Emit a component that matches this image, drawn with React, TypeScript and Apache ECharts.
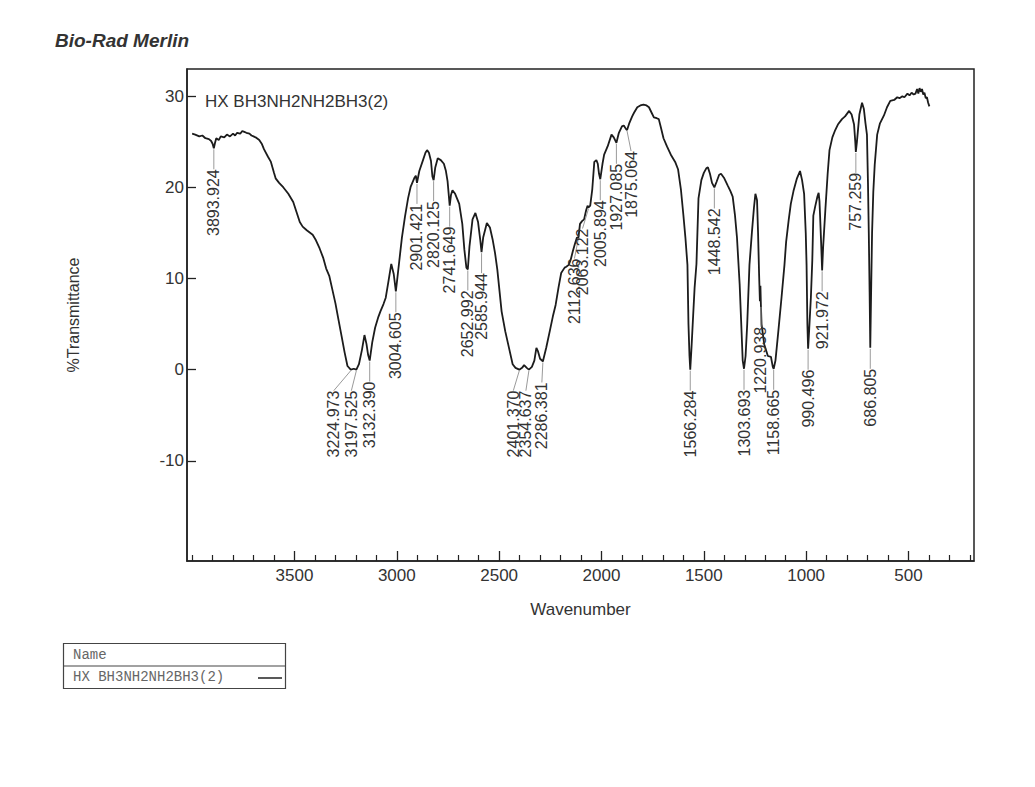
import React, { useEffect, useRef } from "react";
import * as echarts from "echarts";

// Spectrum trace (wavenumber, cm-1) and %Transmittance
const wavenumbers = [
  4000, 3985, 3965, 3950, 3935, 3918, 3907, 3900, 3894, 3888, 3882, 3870, 3860, 3843, 3830, 3815, 3800, 3790, 3780, 3765,
  3755, 3745, 3735, 3720, 3710, 3700, 3690, 3672, 3660, 3649, 3630, 3615, 3600, 3592, 3575, 3554, 3530, 3506, 3490, 3474,
  3460, 3440, 3411, 3395, 3377, 3360, 3345, 3330, 3317, 3300, 3285, 3270, 3255, 3241, 3225, 3210, 3197.5, 3185, 3170, 3158,
  3148, 3140, 3132.4, 3120, 3106, 3090, 3080, 3065, 3054, 3040, 3027, 3015, 3004.6, 2995, 2988, 2975, 2960, 2945, 2932, 2915,
  2907, 2901.4, 2890, 2872, 2860, 2852, 2843, 2833, 2826, 2820.1, 2812, 2800, 2785, 2770, 2760, 2752, 2741.6, 2735, 2728, 2715,
  2695, 2680, 2670, 2660, 2653, 2645, 2630, 2616, 2603, 2592, 2586, 2578, 2560, 2545, 2531, 2520, 2509, 2488, 2470, 2456,
  2434, 2420, 2401.4, 2388, 2378, 2365, 2354.6, 2340, 2328, 2318, 2310, 2300, 2286.4, 2270, 2250, 2238, 2224, 2210, 2197, 2180,
  2172, 2160, 2150, 2140, 2130, 2120, 2112.6, 2105, 2095, 2085, 2075, 2068, 2063.1, 2055, 2045, 2035, 2025, 2018, 2012, 2005.9,
  1995, 1987, 1970, 1951, 1940, 1927, 1915, 1900, 1891, 1880, 1875, 1865, 1850, 1841, 1825, 1810, 1795, 1780, 1768, 1755,
  1744, 1730, 1720, 1710, 1697, 1680, 1659, 1640, 1626, 1612, 1600, 1590, 1580, 1575, 1570, 1566.3, 1560, 1552, 1545, 1536,
  1526, 1512, 1500, 1488, 1480, 1470, 1460, 1448.5, 1438, 1425, 1416, 1400, 1383, 1370, 1359, 1348, 1338, 1325, 1318, 1310,
  1303.7, 1296, 1288, 1277, 1265, 1255, 1248, 1240, 1235, 1230, 1226, 1223.5, 1221, 1218, 1205, 1187, 1172, 1163, 1158.7, 1150,
  1136, 1120, 1106, 1098, 1085, 1075, 1062, 1045, 1030, 1020, 1010, 1002, 998, 994, 990.5, 985, 977, 970, 965, 955,
  945, 939, 935, 932, 927, 922, 917, 906, 895, 886, 872, 858, 845, 825, 810, 800, 790, 778, 766, 760,
  757.3, 752, 740, 727, 718, 710, 703, 698, 694, 690, 686.8, 683, 678, 672, 665, 653, 640, 620, 605, 589,
  570, 555, 544, 530, 520, 505, 495, 485, 475, 466, 458, 452, 446, 440, 434, 428, 422, 416, 410, 404,
  398,
];
const transmittance = [
  25.9, 25.8, 25.6, 25.7, 25.4, 25.3, 25.1, 24.8, 24.3, 24.9, 25.4, 25.2, 25.6, 25.5, 25.8, 25.6, 25.9, 25.7, 26.0, 25.9,
  26.2, 26.1, 26.0, 25.9, 25.7, 25.6, 25.5, 25.2, 24.8, 24.2, 23.4, 22.8, 21.6, 21.0, 20.5, 20.0, 19.3, 18.4, 17.3, 16.2,
  15.7, 15.3, 14.8, 14.2, 13.3, 12.3, 11.1, 10.3, 9.0, 7.3, 5.5, 3.7, 1.9, 0.4, 0.0, 0.1, 0.0, 0.6, 2.2, 3.8,
  2.8, 1.6, 1.0, 3.0, 4.6, 5.8, 6.4, 7.2, 7.9, 9.8, 11.6, 10.5, 8.6, 10.5, 11.9, 14.5, 16.8, 18.8, 20.1, 21.0,
  21.3, 20.5, 21.8, 23.0, 23.8, 24.1, 23.8, 22.9, 21.2, 20.8, 22.2, 23.2, 23.0, 22.6, 21.8, 20.7, 18.0, 19.2, 19.7, 19.3,
  18.2, 16.0, 13.2, 11.2, 11.0, 13.5, 16.5, 17.2, 16.2, 14.2, 12.9, 14.5, 16.1, 15.6, 14.2, 12.8, 11.0, 6.4, 4.2, 2.8,
  0.6, 0.2, 0.0, 0.2, 0.5, 0.2, 0.0, 0.3, 1.0, 2.4, 2.0, 1.2, 0.9, 2.4, 4.5, 5.8, 7.1, 9.0, 10.6, 11.2,
  11.3, 11.5, 12.1, 13.0, 13.8, 14.5, 14.5, 16.0, 16.3, 16.5, 17.5, 18.0, 17.8, 18.0, 19.8, 22.8, 23.0, 22.6, 21.5, 20.9,
  22.6, 23.6, 24.5, 25.8, 25.5, 24.9, 26.0, 26.7, 26.8, 26.4, 26.3, 27.0, 27.8, 28.2, 28.8, 29.0, 29.1, 29.0, 28.8, 28.2,
  27.7, 27.6, 27.5, 26.6, 25.4, 24.5, 23.5, 22.8, 22.0, 19.8, 17.0, 14.5, 11.5, 5.0, 1.5, 0.0, 2.5, 6.0, 9.0, 11.6,
  18.8, 20.8, 21.6, 22.1, 22.2, 21.5, 20.5, 20.0, 20.6, 21.4, 21.5, 21.0, 20.2, 19.6, 19.0, 17.0, 14.5, 9.4, 5.5, 1.0,
  0.1, 1.5, 5.0, 11.5, 15.1, 17.8, 19.3, 18.6, 15.0, 10.5, 7.5, 9.2, 7.0, 5.0, 2.8, 1.5, 1.4, 0.3, 0.1, 1.0,
  4.2, 8.0, 11.5, 14.0, 16.5, 18.2, 19.6, 21.0, 21.8, 20.8, 19.3, 15.0, 11.5, 5.0, 2.3, 4.5, 7.9, 12.0, 16.9, 18.0,
  19.0, 19.4, 18.5, 16.9, 14.0, 10.9, 13.5, 17.6, 21.5, 24.1, 25.5, 26.3, 26.9, 27.5, 27.8, 28.1, 28.4, 28.0, 26.9, 25.0,
  23.9, 25.0, 28.0, 29.3, 28.6, 27.0, 25.8, 20.5, 15.0, 8.5, 2.4, 8.0, 15.0, 19.5, 22.5, 25.8, 27.0, 27.9, 28.8, 29.5,
  29.6, 29.9, 29.8, 30.0, 29.9, 30.3, 30.1, 30.4, 30.2, 30.3, 30.8, 30.3, 30.9, 30.5, 30.8, 30.2, 30.4, 29.8, 29.9, 29.3,
  28.9,
];

// Peak picks
const peakWavenumbers = [
  3893.924, 3224.973, 3197.525, 3132.39, 3004.605, 2901.421, 2820.125, 2741.649, 2652.992, 2585.944,
  2401.37, 2354.637, 2286.381, 2112.636, 2063.122, 2005.894, 1927.085, 1875.064, 1566.284, 1448.542,
  1303.693, 1220.938, 1158.665, 990.496, 921.972, 757.259, 686.805,
];
const peakTransmittance = [
  24.3, 0.0, 0.0, 1.0, 8.6, 20.5, 20.8, 18.0, 11.0, 12.9,
  0.0, 0.0, 0.9, 14.5, 17.8, 20.9, 24.9, 26.3, 0.0, 20.0,
  0.1, 7.0, 0.1, 2.3, 10.9, 23.9, 2.4,
];
const peakLabels = peakWavenumbers.map((v) => v.toFixed(3));

const xMajorTicks = [3500, 3000, 2500, 2000, 1500, 1000, 500];
const xMinorTicks = [
  4000, 3900, 3800, 3700, 3600, 3400, 3300, 3200, 3100, 2900, 2800, 2700, 2600, 2400, 2300, 2200,
  2100, 1900, 1800, 1700, 1600, 1400, 1300, 1200, 1100, 900, 800, 700, 600, 400, 300, 200,
];
const yTicks = [-10, 0, 10, 20, 30];

const sampleName = "HX BH3NH2NH2BH3(2)";

// style: horizontal pixel shift of crowded peak labels
const LABEL_SHIFT = [0, -17, -5, 0, 0, 0, 0, 0, 0, 0, -6, -3, -1, -4, -6, 0, 0, 4, 0, 0, 0, 0, 0, 0, 0, 0, 0];

const SANS = '"Liberation Sans", Arial, sans-serif';
const MONO = '"Liberation Mono", "Courier New", monospace';

const plain = (v: number) => String(v);

export default function App() {
  const ref = useRef<HTMLDivElement>(null);

  useEffect(() => {
    if (!ref.current) return;
    const chart = echarts.init(ref.current, undefined, { renderer: "svg" });
    const lineData = wavenumbers.map((w, i) => [w, transmittance[i]]);
    const peakData = peakWavenumbers.map((w, i) => [w, peakTransmittance[i]]);

    chart.setOption({
      animation: false,
      backgroundColor: "#ffffff",
      grid: {
        left: 187,
        right: 61,
        top: 69,
        bottom: 226,
        show: true,
        borderColor: "#222",
        borderWidth: 1.5,
        backgroundColor: "transparent",
      },
      xAxis: [
        {
          type: "value",
          inverse: true,
          min: 180,
          max: 4025,
          position: "bottom",
          name: "Wavenumber",
          nameLocation: "middle",
          nameGap: 40,
          nameTextStyle: { fontFamily: SANS, fontSize: 17, color: "#333" },
          axisLine: { show: true, onZero: false, lineStyle: { color: "#222", width: 1.5 } },
          axisTick: {
            show: true,
            inside: true,
            length: 10,
            customValues: xMajorTicks,
            lineStyle: { color: "#222", width: 1.3 },
          },
          axisLabel: {
            show: true,
            customValues: xMajorTicks,
            formatter: plain,
            fontFamily: SANS,
            fontSize: 17,
            color: "#333",
            margin: 6,
          },
          splitLine: { show: false },
        },
        {
          type: "value",
          inverse: true,
          min: 180,
          max: 4025,
          position: "bottom",
          offset: 0,
          axisLine: { show: false, onZero: false },
          axisTick: {
            show: true,
            inside: true,
            length: 6,
            customValues: xMinorTicks,
            lineStyle: { color: "#222", width: 1.2 },
          },
          axisLabel: { show: false },
          splitLine: { show: false },
        },
      ],
      yAxis: {
        type: "value",
        min: -21,
        max: 33,
        name: "%Transmittance",
        nameLocation: "middle",
        nameGap: 106,
        nameRotate: 90,
        nameTextStyle: { fontFamily: SANS, fontSize: 16, color: "#333" },
        axisLine: { show: true, onZero: false, lineStyle: { color: "#222", width: 1.5 } },
        axisTick: {
          show: true,
          inside: true,
          length: 9,
          customValues: yTicks,
          lineStyle: { color: "#222", width: 1.3 },
        },
        axisLabel: {
          show: true,
          customValues: yTicks,
          formatter: plain,
          fontFamily: SANS,
          fontSize: 17,
          color: "#333",
          margin: 3,
        },
        splitLine: { show: false },
      },
      series: [
        {
          type: "line",
          name: sampleName,
          data: lineData,
          showSymbol: false,
          symbol: "none",
          smooth: false,
          lineStyle: { color: "#1c1c1c", width: 1.8 },
          xAxisIndex: 0,
          yAxisIndex: 0,
          z: 3,
        },
        {
          type: "custom",
          xAxisIndex: 0,
          yAxisIndex: 0,
          data: peakData,
          clip: false,
          z: 4,
          renderItem: (params: any, api: any) => {
            const idx = params.dataIndex;
            const p = api.coord([api.value(0), api.value(1)]);
            const dx = LABEL_SHIFT[idx] || 0;
            const tx = p[0] + dx;
            const ty = p[1] + 21;
            return {
              type: "group",
              children: [
                {
                  type: "line",
                  shape: { x1: p[0], y1: p[1] + 1, x2: tx, y2: ty },
                  style: { stroke: "#9a9a9a", lineWidth: 1 },
                },
                {
                  type: "text",
                  x: tx,
                  y: ty,
                  rotation: Math.PI / 2,
                  style: {
                    text: peakLabels[idx],
                    fill: "#333",
                    font: `16px ${SANS}`,
                    align: "right",
                    verticalAlign: "middle",
                  },
                },
              ],
            };
          },
        },
      ],
      graphic: [
        {
          type: "text",
          left: 55,
          top: 31,
          style: {
            text: "Bio-Rad Merlin",
            font: `italic bold 19px ${SANS}`,
            fill: "#333",
          },
        },
        {
          type: "text",
          left: 205,
          top: 93,
          style: { text: sampleName, font: `17px ${SANS}`, fill: "#333" },
        },
        {
          type: "rect",
          shape: { x: 63.5, y: 643.5, width: 222, height: 45 },
          style: { fill: "none", stroke: "#444", lineWidth: 1.2 },
        },
        {
          type: "line",
          shape: { x1: 63.5, y1: 666, x2: 285.5, y2: 666 },
          style: { stroke: "#444", lineWidth: 1.2 },
        },
        {
          type: "text",
          left: 73,
          top: 648,
          style: { text: "Name", font: `14px ${MONO}`, fill: "#666" },
        },
        {
          type: "text",
          left: 73,
          top: 670,
          style: { text: sampleName, font: `14px ${MONO}`, fill: "#666" },
        },
        {
          type: "line",
          shape: { x1: 258, y1: 678, x2: 282, y2: 678 },
          style: { stroke: "#222", lineWidth: 1.5 },
        },
      ],
    });

    return () => chart.dispose();
  }, []);

  return (
    <div
      ref={ref}
      style={{ position: "absolute", left: 0, top: 0, width: 1035, height: 787, background: "#fff" }}
    />
  );
}
